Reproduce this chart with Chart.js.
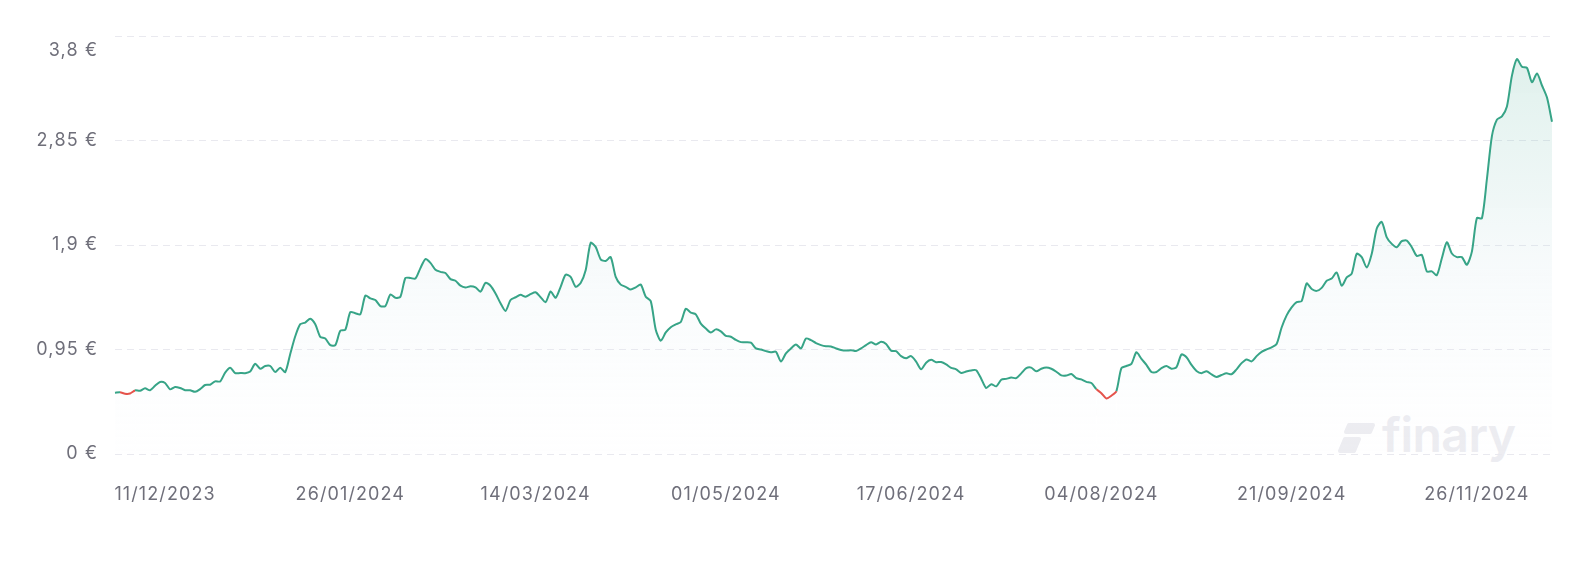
<!DOCTYPE html>
<html>
<head>
<meta charset="utf-8">
<script src="https://cdn.jsdelivr.net/npm/chart.js@4.4.0/dist/chart.umd.min.js"></script>
<style>
  html, body { margin: 0; padding: 0; background: #fff; }
  #wrap { position: relative; width: 1594px; height: 572px; }
  #priceChart { position: absolute; left: 0; top: 0; }
  #watermark { position: absolute; left: 1336px; top: 411px; color: #ececf1; font-family: Inter, "Noto Sans", sans-serif; font-weight: 600; font-size: 48px; line-height: 48px; }
  #watermark svg { position: absolute; left: 0; top: 8px; }
  #watermark span { position: absolute; left: 46px; top: 0; letter-spacing: -0.5px; }
</style>
</head>
<body>
<div id="wrap">
  <div id="watermark">
    <svg width="42" height="36" viewBox="0 0 42 36">
      <polygon points="13,6 37,6 34,13 10,13" fill="#ececf1" stroke="#ececf1" stroke-width="4" stroke-linejoin="round"/>
      <polygon points="9,20 23,20 18,32 4,32" fill="#ececf1" stroke="#ececf1" stroke-width="4" stroke-linejoin="round"/>
    </svg>
    <span>finary</span>
  </div>
  <canvas id="priceChart"></canvas>
</div>
<script>
// price, one value per point, in euros
const values = [
  0.556, 0.562, 0.548, 0.55, 0.578, 0.575, 0.597, 0.58, 0.62, 0.655,
  0.645, 0.588, 0.61, 0.6, 0.58, 0.58, 0.565, 0.59, 0.627, 0.63,
  0.66, 0.66, 0.74, 0.785, 0.735, 0.736, 0.735, 0.75, 0.82, 0.775,
  0.80, 0.80, 0.745, 0.785, 0.745, 0.91, 1.07, 1.18, 1.195, 1.23,
  1.18, 1.065, 1.05, 0.99, 0.99, 1.12, 1.13, 1.29, 1.28, 1.27,
  1.44, 1.415, 1.40, 1.345, 1.345, 1.45, 1.42, 1.43, 1.60, 1.60,
  1.595, 1.69, 1.772, 1.738, 1.675, 1.656, 1.645, 1.59, 1.575, 1.53,
  1.514, 1.525, 1.515, 1.476, 1.556, 1.53, 1.46, 1.37, 1.30, 1.40,
  1.425, 1.447, 1.43, 1.453, 1.47, 1.425, 1.38, 1.477, 1.42, 1.52,
  1.63, 1.61, 1.52, 1.555, 1.67, 1.92, 1.883, 1.77, 1.755, 1.79,
  1.61, 1.54, 1.52, 1.495, 1.515, 1.54, 1.43, 1.39, 1.13, 1.03,
  1.105, 1.153, 1.178, 1.2, 1.32, 1.285, 1.27, 1.185, 1.14, 1.104,
  1.133, 1.115, 1.074, 1.066, 1.037, 1.017, 1.016, 1.012, 0.96, 0.95,
  0.935, 0.924, 0.93, 0.84, 0.915, 0.96, 0.996, 0.96, 1.05, 1.035,
  1.008, 0.99, 0.98, 0.978, 0.96, 0.945, 0.94, 0.944, 0.936, 0.96,
  0.99, 1.017, 0.996, 1.02, 1.0, 0.94, 0.935, 0.89, 0.87, 0.89,
  0.84, 0.77, 0.83, 0.856, 0.835, 0.836, 0.815, 0.783, 0.77, 0.737,
  0.75, 0.76, 0.762, 0.685, 0.6, 0.635, 0.615, 0.675, 0.683, 0.695,
  0.69, 0.733, 0.78, 0.785, 0.752, 0.775, 0.786, 0.775, 0.748, 0.715,
  0.713, 0.727, 0.69, 0.678, 0.656, 0.645, 0.59, 0.553, 0.505, 0.53,
  0.572, 0.78, 0.80, 0.82, 0.925, 0.865, 0.81, 0.746, 0.745, 0.78,
  0.80, 0.775, 0.79, 0.905, 0.88, 0.81, 0.755, 0.735, 0.752, 0.724,
  0.70, 0.718, 0.733, 0.725, 0.77, 0.826, 0.86, 0.842, 0.89, 0.929,
  0.951, 0.97, 1.0, 1.15, 1.26, 1.333, 1.38, 1.39, 1.55, 1.50,
  1.483, 1.51, 1.575, 1.595, 1.65, 1.53, 1.605, 1.64, 1.82, 1.79,
  1.695, 1.82, 2.05, 2.11, 1.97, 1.91, 1.88, 1.935, 1.94, 1.88,
  1.80, 1.81, 1.66, 1.66, 1.626, 1.78, 1.925, 1.823, 1.79, 1.79,
  1.72, 1.84, 2.145, 2.143, 2.5, 2.89, 3.04, 3.07, 3.16, 3.44,
  3.59, 3.52, 3.51, 3.38, 3.46, 3.35, 3.24, 3.02
];

const tickLabels = ["11/12/2023", "26/01/2024", "14/03/2024", "01/05/2024", "17/06/2024", "04/08/2024", "21/09/2024", "26/11/2024"];
const tickIndex = [10, 47, 84, 122, 159, 197, 235, 272];
const yTicks = [0, 0.95, 1.9, 2.85, 3.8];

const green = "#37a487";
const red = "#e5534b";
const startValue = values[0];

// category labels: empty except where a date is shown
const labels = values.map(() => "");
tickIndex.forEach((idx, i) => { labels[idx] = tickLabels[i]; });

function euro(v) {
    return String(v).replace(".", ",") + " €";
}

function fillGradient(ctx) {
    const area = ctx.chart.chartArea;
    if (!area) return "rgba(0,0,0,0)";
    const g = ctx.chart.ctx.createLinearGradient(0, area.top, 0, area.bottom);
    g.addColorStop(0, "rgba(55,164,135,0.17)");
    g.addColorStop(0.55, "rgba(205,226,232,0.16)");
    g.addColorStop(1, "rgba(245,246,252,0.05)");
    return g;
}

const fontFamily = "Inter, 'Noto Sans', sans-serif";
const lastY = yTicks.length - 1;

new Chart(document.getElementById("priceChart"), {
    type: "line",
    data: {
        labels: labels,
        datasets: [{
            data: values,
            borderColor: green,
            borderWidth: 2,
            pointRadius: 0,
            tension: 0.25,
            fill: "origin",
            backgroundColor: fillGradient,
            segment: {
                borderColor: c => (c.p0.parsed.y < startValue || c.p1.parsed.y < startValue) ? red : green
            }
        }]
    },
    options: {
        responsive: true,
        maintainAspectRatio: false,
        animation: false,
        layout: { padding: { top: 36, right: 42, left: 0, bottom: 0 } },
        plugins: {
            legend: { display: false },
            tooltip: { enabled: false }
        },
        scales: {
            x: {
                type: "category",
                offset: false,
                grid: { display: false, drawTicks: false },
                border: { display: false },
                afterFit: s => { s.height = 118; },
                ticks: {
                    autoSkip: false,
                    maxRotation: 0,
                    padding: 30,
                    color: "#6f6f7a",
                    font: { family: fontFamily, size: 18 }
                }
            },
            y: {
                min: 0,
                max: 3.8,
                afterFit: s => { s.width = 115; s.paddingTop = 0; s.paddingBottom = 0; },
                afterBuildTicks: s => { s.ticks = yTicks.map(v => ({ value: v })); },
                border: { display: false, dash: [7, 5] },
                grid: { color: "#e9e9ef", lineWidth: 1, drawTicks: false },
                ticks: {
                    padding: 17,
                    color: "#6f6f7a",
                    font: c => c.index === lastY
                        ? { family: fontFamily, size: 18, lineHeight: "29px" }
                        : { family: fontFamily, size: 18 },
                    // the top label sits a little below its grid line
                    callback: (v, i) => i === lastY ? ["", euro(v)] : euro(v)
                }
            }
        }
    },
    plugins: [{
        id: "wideDigits",
        beforeDraw(chart) {
            // reference text uses wide (tabular) digits
            chart.ctx.letterSpacing = "1.1px";
        }
    }]
});
</script>
</body>
</html>
